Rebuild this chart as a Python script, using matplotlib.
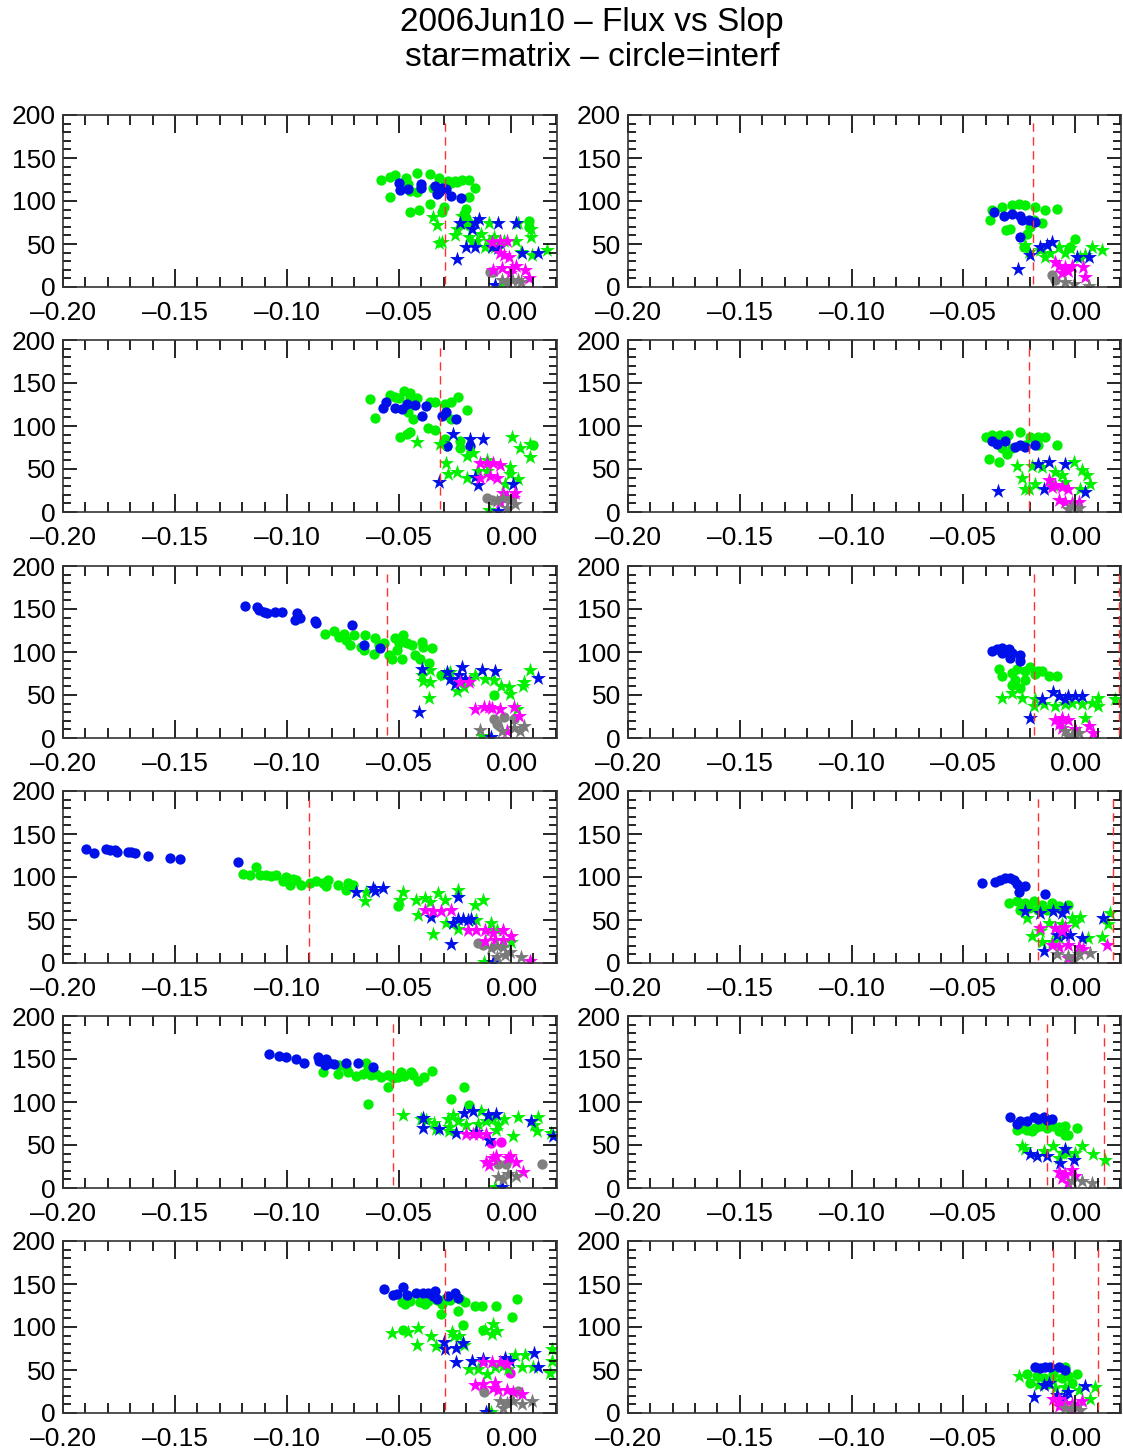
import numpy as np
import matplotlib
matplotlib.use("Agg")
import matplotlib.pyplot as plt
from matplotlib.ticker import MultipleLocator, FuncFormatter

plt.rcParams['font.family'] = ['Liberation Sans', 'DejaVu Sans']

title_lines = ["2006Jun10 \u2013 Flux vs Slop", "star=matrix \u2013 circle=interf"]

xlim = (-0.20, 0.0205)
ylim = (0, 200)

# dashed red lines, one list per panel (row-major: left, right)
vlines = [
    [-0.0295], [-0.0187],
    [-0.0317], [-0.0205],
    [-0.0556], [-0.0183, 0.0195],
    [-0.0902], [-0.0166, 0.0168],
    [-0.0527], [-0.0127, 0.0130],
    [-0.0295], [-0.0100, 0.0102],
]

# green circles (interf)
green_circ = [
    [(-0.058, 125), (-0.054, 128), (-0.052, 130), (-0.054, 105), (-0.047, 127), (-0.046, 120),
     (-0.045, 112), (-0.045, 87), (-0.042, 110), (-0.042, 133), (-0.041, 90), (-0.040, 116),
     (-0.036, 97), (-0.036, 131), (-0.035, 115), (-0.032, 127), (-0.031, 87), (-0.030, 93),
     (-0.029, 121), (-0.028, 123), (-0.027, 121), (-0.025, 123), (-0.024, 122), (-0.022, 125),
     (-0.019, 105), (-0.019, 125), (-0.020, 91), (-0.016, 115), (-0.021, 85), (-0.020, 80),
     (-0.019, 75), (0.008, 77), (0.008, 70)],
    [(-0.0372, 89), (-0.0327, 93), (-0.0283, 95), (-0.0253, 97), (-0.0223, 95), (-0.0179, 93),
     (-0.0134, 89), (-0.0082, 91), (-0.038, 78), (-0.031, 66), (-0.029, 68), (-0.0216, 62),
     (-0.0201, 70), (-0.0149, 75), (-0.0186, 78), (-0.023, 47), (0.0, 56), (-0.0022, 47)],
    [(-0.063, 131), (-0.0607, 109), (-0.054, 136), (-0.0518, 134), (-0.048, 141), (-0.045, 138),
     (-0.045, 132), (-0.050, 132), (-0.0458, 116), (-0.0436, 108), (-0.042, 132), (-0.036, 128),
     (-0.034, 128), (-0.0295, 126), (-0.027, 128), (-0.0235, 134), (-0.0198, 119), (-0.027, 108),
     (-0.0496, 87), (-0.0466, 91), (-0.045, 93), (-0.037, 98), (-0.034, 95), (-0.0295, 85),
     (-0.0287, 77), (-0.0228, 75), (0.010, 78), (-0.0228, 83)],
    [(-0.040, 87), (-0.037, 89), (-0.0335, 90), (-0.030, 90), (-0.0246, 93), (-0.020, 87),
     (-0.0164, 87), (-0.0134, 87), (-0.0082, 78), (-0.0387, 62), (-0.0342, 58), (-0.0305, 68),
     (-0.0283, 74), (-0.0223, 78), (-0.0164, 78), (-0.0327, 74)],
    [(-0.0829, 121), (-0.079, 125), (-0.077, 117), (-0.0744, 121), (-0.0737, 114), (-0.0719, 108),
     (-0.0699, 120), (-0.067, 106), (-0.0658, 102), (-0.0652, 120), (-0.0613, 98), (-0.0606, 116),
     (-0.0591, 108), (-0.0568, 110), (-0.0546, 96), (-0.0531, 92), (-0.0509, 102), (-0.0501, 110),
     (-0.0487, 92), (-0.0482, 120), (-0.0464, 110), (-0.0442, 108), (-0.0427, 96), (-0.0405, 92),
     (-0.0397, 112), (-0.0393, 106), (-0.0367, 87), (-0.0353, 105), (-0.0315, 73), (-0.0077, 50),
     (-0.0516, 116)],
    [(-0.0342, 80), (-0.0327, 72), (-0.0283, 76), (-0.0268, 68), (-0.026, 80), (-0.0223, 78),
     (-0.0201, 82), (-0.0179, 74), (-0.0149, 78), (-0.0119, 72), (-0.0082, 72), (-0.0223, 68),
     (-0.0246, 58), (-0.0283, 62), (-0.0164, 78)],
    [(-0.1196, 104), (-0.1167, 102), (-0.1137, 112), (-0.1122, 102), (-0.1092, 102), (-0.107, 101),
     (-0.1048, 102), (-0.1018, 95), (-0.1003, 100), (-0.0988, 91), (-0.0973, 98), (-0.0958, 97),
     (-0.0936, 91), (-0.0899, 93), (-0.0869, 95), (-0.084, 93), (-0.0824, 89), (-0.0817, 97),
     (-0.0772, 91), (-0.0728, 93), (-0.0735, 85), (-0.0705, 91), (-0.0504, 66)],
    [(-0.0298, 70), (-0.026, 72), (-0.0246, 62), (-0.0223, 70), (-0.0186, 72), (-0.0149, 68),
     (-0.0104, 70), (-0.0074, 66), (-0.003, 67), (-0.0208, 64), (-0.0126, 62), (-0.0164, 62)],
    [(-0.0841, 135), (-0.0774, 132), (-0.0766, 143), (-0.0737, 141), (-0.0729, 135), (-0.0692, 130),
     (-0.0662, 133), (-0.0647, 145), (-0.064, 137), (-0.0625, 131), (-0.0603, 133), (-0.0581, 129),
     (-0.0551, 131), (-0.0551, 118), (-0.0528, 128), (-0.0506, 129), (-0.0491, 135), (-0.0476, 130),
     (-0.0446, 135), (-0.0439, 131), (-0.0417, 125), (-0.0387, 129), (-0.0353, 136), (-0.064, 98),
     (-0.0268, 103), (-0.0211, 117), (-0.019, 97)],
    [(-0.026, 68), (-0.0238, 70), (-0.0216, 68), (-0.0193, 66), (-0.0156, 72), (-0.0126, 70),
     (-0.0097, 72), (-0.0074, 71), (-0.0045, 72), (-0.003, 62), (0.0007, 70), (-0.0045, 62),
     (-0.0074, 66), (-0.0179, 70)],
    [(-0.0488, 129), (-0.0473, 127), (-0.0451, 130), (-0.0406, 129), (-0.0384, 127), (-0.0369, 130),
     (-0.0332, 131), (-0.031, 127), (-0.0295, 133), (-0.0272, 131), (-0.0228, 133), (-0.0205, 129),
     (-0.0314, 115), (-0.0239, 119), (-0.0161, 124), (-0.0131, 125), (-0.0067, 124), (0.0025, 132),
     (0.0003, 112), (-0.0213, 102), (-0.0124, 97), (-0.0484, 96)],
    [(-0.0216, 45), (-0.0201, 35), (-0.0171, 43), (-0.0141, 41), (-0.0097, 45), (-0.006, 41),
     (-0.003, 43), (-0.0015, 35), (0.0007, 45), (-0.0045, 54), (-0.0126, 34)],
]

# blue circles (interf)
blue_circ = [
    [(-0.050, 121), (-0.0495, 113), (-0.046, 114), (-0.040, 120), (-0.040, 115), (-0.034, 118),
     (-0.033, 108), (-0.031, 115), (-0.029, 114), (-0.027, 106), (-0.0225, 104), (-0.032, 110)],
    [(-0.0365, 87), (-0.032, 82), (-0.0283, 85), (-0.0246, 82), (-0.0238, 78), (-0.0208, 78),
     (-0.0179, 76), (-0.0246, 58)],
    [(-0.057, 121), (-0.0558, 128), (-0.0518, 121), (-0.0488, 120), (-0.0466, 126), (-0.0429, 124),
     (-0.0399, 112), (-0.038, 123), (-0.031, 112), (-0.029, 116), (-0.0246, 108), (-0.0287, 77),
     (-0.0183, 77)],
    [(-0.037, 83), (-0.035, 79), (-0.0268, 76), (-0.0246, 78), (-0.0223, 76), (-0.0179, 78),
     (-0.0312, 82)],
    [(-0.1186, 153), (-0.1134, 152), (-0.1126, 149), (-0.1104, 147), (-0.109, 145), (-0.1052, 146),
     (-0.1022, 146), (-0.0955, 145), (-0.0963, 137), (-0.094, 139), (-0.0874, 136), (-0.0869, 134),
     (-0.071, 131), (-0.0658, 108), (-0.0583, 105)],
    [(-0.0372, 101), (-0.035, 103), (-0.0327, 99), (-0.0298, 103), (-0.029, 93), (-0.0283, 99),
     (-0.0246, 97), (-0.0246, 89), (-0.0327, 105)],
    [(-0.1899, 133), (-0.1863, 128), (-0.1807, 133), (-0.1792, 131), (-0.1769, 131), (-0.1759, 129),
     (-0.171, 129), (-0.1695, 129), (-0.168, 128), (-0.162, 124), (-0.1524, 122), (-0.1479, 121),
     (-0.1219, 118)],
    [(-0.0417, 93), (-0.0357, 94), (-0.0335, 97), (-0.0312, 99), (-0.029, 99), (-0.0275, 96),
     (-0.026, 92), (-0.0253, 82), (-0.0223, 89), (-0.0134, 80)],
    [(-0.1082, 156), (-0.1037, 154), (-0.1004, 152), (-0.096, 150), (-0.0923, 145), (-0.0863, 152),
     (-0.0856, 148), (-0.0826, 150), (-0.0811, 145), (-0.0829, 143), (-0.0789, 144), (-0.0737, 145),
     (-0.0685, 145), (-0.0618, 141)],
    [(-0.029, 82), (-0.026, 75), (-0.0246, 78), (-0.0216, 78), (-0.0186, 83), (-0.0164, 80),
     (-0.0141, 82), (-0.0104, 80), (-0.0126, 79)],
    [(-0.0567, 144), (-0.0528, 137), (-0.051, 138), (-0.0481, 146), (-0.0466, 137), (-0.0424, 139),
     (-0.0394, 140), (-0.0369, 139), (-0.0339, 142), (-0.0332, 133), (-0.0347, 136), (-0.025, 140),
     (-0.0239, 134), (-0.028, 136)],
    [(-0.0179, 54), (-0.0156, 52), (-0.0134, 54), (-0.0112, 54), (-0.0074, 54), (-0.0045, 50)],
]

# green stars (matrix)
green_star = [
    [(-0.035, 81), (-0.0331, 72), (-0.032, 51), (-0.031, 52), (-0.025, 60), (-0.024, 68),
     (-0.0217, 83), (-0.021, 72), (-0.019, 58), (-0.0176, 52), (-0.015, 54), (-0.0118, 47),
     (-0.010, 75), (-0.010, 54), (-0.0077, 58), (-0.005, 51), (-0.003, 54), (0.002, 54),
     (0.003, 75), (0.0046, 41), (0.0087, 68), (0.0087, 58), (0.0095, 37), (0.016, 43),
     (-0.0135, 62), (-0.007, 47), (-0.005, 2)],
    [(-0.0223, 49), (-0.0208, 41), (-0.0156, 43), (-0.0137, 35), (-0.0074, 47), (-0.0045, 39),
     (-0.0022, 45), (0.0022, 35), (0.0045, 37), (0.0074, 47), (0.0119, 43), (-0.0112, 39)],
    [(-0.0418, 81), (-0.0317, 79), (-0.029, 57), (-0.0283, 44), (-0.0243, 46), (-0.0198, 40),
     (-0.0198, 65), (-0.0168, 69), (-0.0146, 48), (-0.0109, 61), (-0.0109, 48), (-0.0027, 32),
     (-0.0004, 52), (0.0003, 87), (0.004, 75), (0.0085, 79), (0.0085, 64), (0.0033, 38),
     (-0.0004, 44), (-0.01, 2)],
    [(-0.026, 54), (-0.0238, 39), (-0.0223, 27), (-0.0193, 54), (-0.0179, 33), (-0.0149, 52),
     (-0.0089, 47), (-0.006, 43), (-0.0007, 58), (0.003, 49), (0.0052, 43), (0.0067, 33),
     (0.0022, 27), (-0.0045, 35), (-0.0097, 31), (-0.0208, 27)],
    [(-0.0397, 73), (-0.0393, 66), (-0.036, 79), (-0.036, 65), (-0.0368, 47), (-0.0301, 73),
     (-0.0271, 77), (-0.0241, 55), (-0.0211, 59), (-0.0159, 73), (-0.0115, 69), (-0.0077, 67),
     (-0.0045, 61), (-0.0003, 51), (-0.001, 59), (0.0057, 65), (0.0054, 61), (0.0083, 79),
     (0.0027, 34), (-0.0182, 67), (-0.013, 2)],
    [(-0.0327, 47), (-0.0283, 52), (-0.0238, 47), (-0.0186, 37), (-0.0141, 39), (-0.0089, 37),
     (-0.0045, 39), (-0.0015, 41), (0.003, 39), (0.0074, 41), (0.0104, 37), (0.0104, 47),
     (0.0179, 45), (0.0045, 23), (-0.0179, 45)],
    [(-0.0653, 72), (-0.0646, 83), (-0.0482, 82), (-0.0497, 73), (-0.0423, 73), (-0.0415, 56),
     (-0.0385, 76), (-0.0363, 71), (-0.0348, 34), (-0.0326, 81), (-0.0296, 73), (-0.0289, 46),
     (-0.0237, 85), (-0.0237, 40), (-0.0162, 67), (-0.0155, 50), (-0.0125, 73), (-0.0088, 46),
     (-0.0065, 38), (0.0001, 25), (-0.0095, 38), (-0.012, 1)],
    [(-0.0216, 52), (-0.0193, 31), (-0.0156, 37), (-0.0119, 47), (-0.0089, 41), (-0.006, 45),
     (-0.0015, 52), (0.0022, 54), (0.0, 47), (-0.0074, 29), (-0.0149, 25), (0.0058, 29),
     (0.0119, 30), (0.0156, 58), (0.0149, 45), (-0.0104, 25)],
    [(-0.0484, 85), (-0.0402, 80), (-0.038, 79), (-0.0342, 76), (-0.0335, 69), (-0.0283, 80),
     (-0.0275, 71), (-0.0261, 85), (-0.0238, 78), (-0.0201, 73), (-0.0149, 74), (-0.0134, 90),
     (-0.0112, 78), (-0.0082, 80), (-0.006, 73), (-0.0067, 67), (-0.003, 80), (0.0007, 60),
     (0.003, 83), (0.0104, 73), (0.0115, 66), (0.0119, 83), (0.0179, 64), (-0.0275, 66),
     (-0.007, 1)],
    [(-0.0238, 49), (-0.0223, 45), (-0.0141, 43), (-0.0097, 49), (-0.006, 41), (-0.003, 41),
     (0.0, 41), (0.003, 49), (0.0082, 40), (0.0134, 33), (-0.0074, 35)],
    [(-0.0533, 93), (-0.0458, 94), (-0.0414, 99), (-0.0418, 79), (-0.0359, 89), (-0.0335, 78),
     (-0.0265, 94), (-0.0254, 89), (-0.0231, 90), (-0.021, 79), (-0.0116, 97), (-0.0079, 104),
     (-0.0086, 92), (-0.0064, 95), (-0.019, 51), (-0.0146, 51), (-0.0109, 45), (-0.0071, 53),
     (-0.0034, 55), (-0.0012, 51), (0.0018, 67), (0.0048, 53), (0.0062, 68), (0.01, 53),
     (0.0174, 46), (0.0182, 74), (0.0182, 61), (-0.009, 1)],
    [(-0.0253, 43), (-0.0164, 33), (-0.0089, 29), (-0.0045, 30), (0.0015, 27), (0.0067, 16),
     (0.0089, 30), (-0.0097, 37)],
]

# blue stars (matrix)
blue_star = [
    [(-0.024, 33), (-0.023, 75), (-0.020, 46), (-0.0176, 68), (-0.016, 75), (-0.0143, 79),
     (-0.016, 47), (-0.006, 75), (-0.0085, 47), (-0.006, 45), (0.002, 74), (0.012, 40),
     (0.005, 39), (-0.007, 2)],
    [(-0.0256, 21), (-0.0201, 37), (-0.0156, 47), (-0.0126, 49), (-0.0104, 52), (0.0007, 35),
     (0.006, 35)],
    [(-0.032, 35), (-0.0257, 91), (-0.0183, 85), (-0.0126, 85), (-0.016, 41), (-0.0146, 31),
     (0.0007, 33), (-0.006, 1)],
    [(-0.0345, 25), (-0.0164, 56), (-0.0119, 58), (-0.0045, 56), (-0.0141, 27), (0.0045, 23)],
    [(-0.0412, 30), (-0.0397, 80), (-0.0286, 77), (-0.0271, 69), (-0.0249, 63), (-0.0234, 73),
     (-0.0219, 82), (-0.0204, 69), (-0.0129, 79), (-0.007, 78), (0.0119, 70), (-0.009, 1)],
    [(-0.0201, 23), (-0.0149, 45), (-0.0097, 54), (-0.0074, 49), (-0.003, 49), (0.0, 49),
     (0.003, 49), (-0.0045, 45)],
    [(-0.0693, 83), (-0.0616, 87), (-0.0609, 84), (-0.0571, 87), (-0.0356, 54), (-0.0266, 22),
     (-0.0237, 77), (-0.0237, 51), (-0.0214, 51), (-0.0192, 50), (-0.0177, 51), (-0.0259, 46),
     (-0.008, 1)],
    [(-0.0223, 61), (-0.0156, 58), (-0.0097, 60), (-0.006, 58), (-0.0045, 64), (-0.0082, 33),
     (-0.0045, 33), (-0.0022, 33), (0.003, 29), (-0.0141, 14), (0.0126, 52)],
    [(-0.0394, 81), (-0.0394, 70), (-0.032, 69), (-0.0246, 64), (-0.0208, 87), (-0.0171, 89),
     (-0.0156, 65), (-0.0104, 85), (-0.0097, 56), (-0.0067, 86), (0.0089, 78), (0.0186, 60),
     (-0.004, 1)],
    [(-0.0201, 40), (-0.0171, 37), (-0.0126, 37), (-0.0067, 29), (-0.0007, 33), (-0.0045, 45)],
    [(-0.0299, 83), (-0.0295, 74), (-0.0246, 76), (-0.0216, 81), (-0.0246, 59), (-0.0176, 60),
     (-0.0126, 63), (-0.0027, 64), (-0.0004, 61), (0.0103, 70), (0.0122, 54), (-0.011, 1)],
    [(-0.0182, 19), (-0.0141, 33), (-0.0119, 35), (-0.0082, 21), (-0.003, 25), (0.0045, 31),
     (-0.0052, 17)],
]

# magenta stars (matrix)
mag_star = [
    [(-0.0085, 52), (-0.005, 54), (-0.002, 54), (-0.005, 39), (-0.003, 37), (-0.001, 35),
     (-0.008, 20), (-0.004, 22), (0.0005, 22), (0.002, 24), (0.006, 20), (0.008, 10),
     (-0.0003, 16)],
    [(-0.0074, 25), (-0.0045, 23), (-0.0015, 25), (-0.006, 16), (-0.003, 19), (0.0037, 23),
     (0.0045, 12), (-0.0089, 29)],
    [(-0.0138, 57), (-0.0109, 57), (-0.0079, 57), (-0.0049, 55), (-0.0138, 40), (-0.0094, 42),
     (-0.0064, 40), (-0.0034, 22), (-0.0019, 18), (0.001, 16), (-0.0049, 12), (0.0018, 22)],
    [(-0.0119, 37), (-0.0089, 31), (-0.006, 29), (-0.003, 27), (-0.0074, 14), (-0.0045, 12),
     (-0.0015, 10), (0.0015, 12), (-0.0104, 29)],
    [(-0.0226, 65), (-0.0189, 65), (-0.0159, 34), (-0.0122, 36), (-0.0085, 35), (-0.0048, 34),
     (0.0012, 36), (0.0034, 26), (-0.0018, 8), (-0.01, 36)],
    [(-0.0089, 21), (-0.006, 23), (-0.003, 21), (-0.006, 12), (0.0, 10), (0.006, 14),
     (0.0082, 6), (-0.0074, 16)],
    [(-0.0385, 62), (-0.0348, 60), (-0.0311, 61), (-0.0266, 62), (-0.0192, 38), (-0.0155, 38),
     (-0.0118, 38), (-0.0118, 26), (-0.0073, 27), (-0.0036, 38), (-0.0036, 27), (0.0001, 31),
     (0.0083, 2), (-0.008, 35)],
    [(-0.0156, 41), (-0.0089, 41), (-0.0045, 42), (-0.0104, 21), (-0.0074, 19), (-0.003, 21),
     (0.0015, 19), (0.0037, 16), (0.0141, 21), (-0.003, 6), (-0.006, 37)],
    [(-0.0201, 63), (-0.0171, 63), (-0.0141, 63), (-0.0112, 63), (-0.0112, 30), (-0.0082, 35),
     (-0.0067, 37), (-0.0015, 35), (-0.0007, 37), (0.0022, 30), (0.0055, 19), (-0.0097, 27)],
    [(-0.0074, 19), (-0.0045, 16), (-0.0015, 21), (0.0, 14), (-0.006, 12), (-0.003, 6)],
    [(-0.0124, 59), (-0.0086, 59), (-0.0049, 59), (-0.0019, 57), (-0.0161, 33), (-0.0124, 34),
     (-0.0071, 35), (-0.0057, 27), (-0.0019, 27), (0.001, 25), (0.0048, 22), (-0.0079, 29)],
    [(-0.0097, 16), (-0.0074, 16), (-0.0045, 12), (-0.0015, 10), (0.0007, 8), (0.003, 14),
     (-0.0074, 8), (-0.0015, 2)],
]

# magenta circles (interf)
mag_circ = [
    [], [], [], [], [], [], [], [],
    [(-0.009, 52), (-0.0045, 54)],
    [], [(-0.0004, 47)], [],
]

# grey circles (interf)
grey_circ = [
    [(-0.0093, 17), (-0.008, 18)],
    [(-0.0104, 14), (-0.009, 8)],
    [(-0.0109, 16), (-0.0086, 14)],
    [],
    [(-0.0077, 22), (-0.0033, 24), (-0.0063, 16), (0.0012, 22)],
    [],
    [(-0.0147, 23), (-0.0125, 21)],
    [],
    [(-0.006, 28), (-0.0022, 28), (0.0138, 28)],
    [],
    [(-0.012, 25), (0.0033, 26)],
    [],
]

# grey stars (matrix)
grey_star = [
    [(-0.004, 8), (0.0005, 8), (0.003, 8), (0.0045, 6), (-0.002, 5)],
    [(-0.0045, 6), (-0.0007, 4), (0.006, 1)],
    [(-0.0064, 13), (-0.0034, 16), (-0.0004, 14), (0.0018, 9), (-0.0019, 5)],
    [(-0.0015, 6), (0.0015, 5), (-0.003, 3)],
    [(-0.0137, 9), (-0.004, 8), (0.0012, 12), (0.0042, 8), (0.0057, 14)],
    [(-0.0045, 8), (-0.0015, 4), (0.0015, 6), (-0.003, 2)],
    [(-0.0088, 17), (-0.0065, 20), (-0.0036, 19), (-0.0065, 7), (-0.0028, 9), (0.0046, 7),
     (-0.0006, 13)],
    [(-0.0082, 10), (-0.003, 8), (0.0015, 10), (0.0067, 12), (-0.0007, 4)],
    [(-0.006, 13), (-0.0015, 16), (0.0022, 14), (-0.0037, 10)],
    [(-0.0015, 8), (0.003, 8), (0.0074, 6)],
    [(-0.0049, 14), (-0.0019, 12), (0.001, 14), (0.0048, 10), (0.0092, 14), (-0.0034, 6)],
    [(-0.0045, 6), (-0.0015, 6), (0.0022, 4)],
]

W, H = 1123, 1452
fig = plt.figure(figsize=(W / 100, H / 100), dpi=100)

col_left = [63, 628]
col_width = [494, 493]
row_tops = [115, 340, 566, 791, 1016, 1241]
panel_h = 172

fig.text(592 / W, 1 - 23 / H, title_lines[0], ha='center', va='center', fontsize=24)
fig.text(592 / W, 1 - 58 / H, title_lines[1], ha='center', va='center', fontsize=24)

circ_size = 55
star_size = 130


def xfmt(v, pos):
    # IDL style: long dash as minus sign
    return ('%.2f' % v).replace('-', '\u2013')


def scatter_group(ax, pts, color, marker, size):
    if len(pts) == 0:
        return
    arr = np.array(pts)
    ax.scatter(arr[:, 0], arr[:, 1], s=size, c=color, marker=marker,
               linewidths=0, clip_on=True)


for i in range(12):
    r, c = divmod(i, 2)
    left = col_left[c] / W
    bottom = 1 - (row_tops[r] + panel_h) / H
    ax = fig.add_axes([left, bottom, col_width[c] / W, panel_h / H])

    scatter_group(ax, green_circ[i], '#00f000', 'o', circ_size)
    scatter_group(ax, blue_circ[i], '#0010e8', 'o', circ_size)
    scatter_group(ax, mag_circ[i], '#ff00ff', 'o', circ_size)
    scatter_group(ax, grey_circ[i], '#808080', 'o', circ_size)
    scatter_group(ax, green_star[i], '#00f000', '*', star_size)
    scatter_group(ax, blue_star[i], '#0010e8', '*', star_size)
    scatter_group(ax, mag_star[i], '#ff00ff', '*', star_size)
    scatter_group(ax, grey_star[i], '#7a7a7a', '*', star_size)

    for xv in vlines[i]:
        ax.plot([xv, xv], [3, 193], color='#ff3030', lw=1.0, ls=(0, (6, 4)))

    ax.set_xlim(*xlim)
    ax.set_ylim(*ylim)
    ax.xaxis.set_major_locator(MultipleLocator(0.05))
    ax.xaxis.set_minor_locator(MultipleLocator(0.01))
    ax.xaxis.set_major_formatter(FuncFormatter(xfmt))
    ax.yaxis.set_major_locator(MultipleLocator(50))
    ax.yaxis.set_minor_locator(MultipleLocator(10))
    ax.tick_params(which='both', direction='in', top=True, right=True,
                   labelsize=19, width=1.2, colors='black')
    ax.tick_params(axis='x', which='major', length=13, pad=10)
    ax.tick_params(axis='x', which='minor', length=7)
    ax.tick_params(axis='y', which='major', length=10, pad=5)
    ax.tick_params(axis='y', which='minor', length=6)
    for sp in ax.spines.values():
        sp.set_linewidth(1.2)
        sp.set_color('#333333')

fig.savefig('out.png', dpi=100)
